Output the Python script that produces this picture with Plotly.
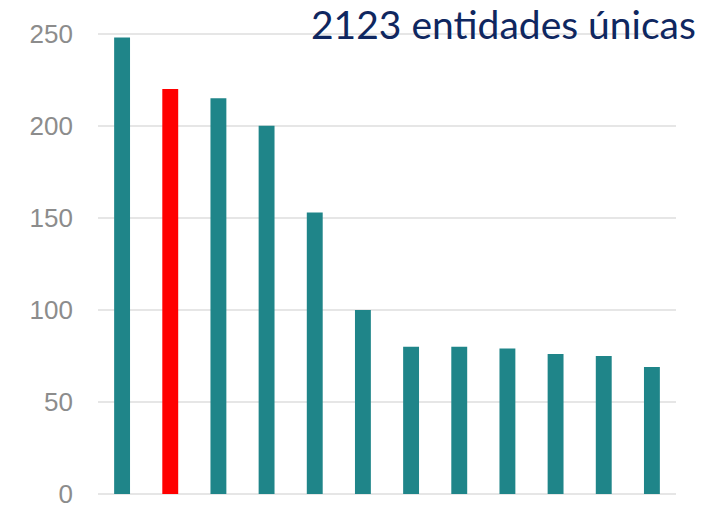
import plotly.graph_objects as go

categories = [str(i) for i in range(1, 13)]
values = [248, 220, 215, 200, 153, 100, 80, 80, 79, 76, 75, 69]
bar_colors = ["#1F8589", "#FF0000"] + ["#1F8589"] * 10
y_ticks = [0, 50, 100, 150, 200, 250]
title_text = "2123 entidades únicas"

fig = go.Figure(
    go.Bar(
        x=categories,
        y=values,
        marker=dict(color=bar_colors, line=dict(width=0)),
        width=0.33,
        hoverinfo="skip",
    )
)

# page body has an 8px default margin; lay out in figure coordinates
OFF = 8
W, H = 720 - OFF, 507 - OFF
left, right = 97.5 - OFF, 676 - OFF
top0, bottom0 = 33.7 - OFF, 493.7 - OFF  # pixel rows for 250 and 0
ppu = (bottom0 - top0) / 250
ymax = 251
t = bottom0 - ymax * ppu

fig.update_layout(
    width=W,
    height=H,
    margin=dict(l=left, r=W - right, t=t, b=H - bottom0, pad=0, autoexpand=False),
    paper_bgcolor="white",
    plot_bgcolor="white",
    showlegend=False,
    xaxis=dict(
        type="category",
        range=[-0.5, 11.5],
        showticklabels=False,
        showgrid=False,
        zeroline=False,
        showline=False,
        ticks="",
    ),
    yaxis=dict(
        range=[0, ymax],
        tickvals=y_ticks,
        ticktext=[str(v) for v in y_ticks],
        showgrid=True,
        gridcolor="#E6E6E6",
        gridwidth=1.5,
        zeroline=True,
        zerolinecolor="#E6E6E6",
        zerolinewidth=1.5,
        showline=False,
        ticks="",
        ticklabelstandoff=24,
        ticklabeloverflow="allow",
        tickfont=dict(family="Liberation Sans, Arial, sans-serif", size=26, color="#8C8C8C"),
        automargin=False,
    ),
    annotations=[
        dict(
            text=title_text,
            xref="paper",
            yref="paper",
            x=(698 - OFF - left) / (right - left),
            y=(bottom0 - (24 - OFF)) / (bottom0 - t),
            xanchor="right",
            yanchor="middle",
            showarrow=False,
            font=dict(family="Lato, Noto Sans, sans-serif", size=39, color="#0F2760"),
        )
    ],
)

fig.write_html("out.html")
